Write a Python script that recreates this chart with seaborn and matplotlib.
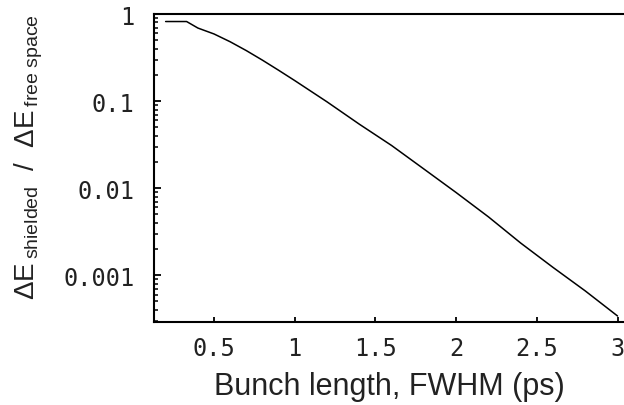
import matplotlib
matplotlib.use("Agg")
import matplotlib.pyplot as plt
import matplotlib.ticker as mticker
import numpy as np
import pandas as pd
import seaborn as sns

# Data
bunch_length_ps = [0.2, 0.33, 0.4, 0.5, 0.6, 0.7, 0.8, 0.9, 1.0, 1.2, 1.4,
                   1.6, 1.8, 2.0, 2.2, 2.4, 2.6, 2.8, 3.0]
energy_ratio = [0.82, 0.82, 0.69, 0.59, 0.48, 0.38, 0.295, 0.226, 0.172, 0.098,
                0.0543, 0.0309, 0.0166, 0.0089, 0.00468, 0.00234, 0.00123,
                0.00066, 0.00034]
x_ticks = [0.5, 1, 1.5, 2, 2.5, 3]
x_tick_labels = ["0.5", "1", "1.5", "2", "2.5", "3"]
y_ticks = [1, 0.1, 0.01, 0.001]
y_tick_labels = ["1", "0.1", "0.01", "0.001"]

df = pd.DataFrame({"x": bunch_length_ps, "y": energy_ratio})

sns.set_style("ticks")
plt.rcParams["font.family"] = ["Liberation Sans", "DejaVu Sans"]
plt.rcParams["mathtext.fontset"] = "custom"
plt.rcParams["mathtext.rm"] = "Liberation Sans"
plt.rcParams["mathtext.it"] = "Liberation Sans"
plt.rcParams["xtick.direction"] = "in"
plt.rcParams["ytick.direction"] = "in"

fig = plt.figure(figsize=(6.24, 4.06), dpi=100)
ax = fig.add_axes([0.2468, 0.2044, 0.7532, 0.7586])

sns.lineplot(data=df, x="x", y="y", ax=ax, color="black", linewidth=1.1)

ax.set_yscale("log")
ax.set_xlim(0.128, 3.04)
ax.set_ylim(2.9e-4, 1.0)

ax.set_xticks(x_ticks)
ax.set_xticklabels(x_tick_labels)
ax.set_yticks(y_ticks)
ax.set_yticklabels(y_tick_labels)
ax.yaxis.set_minor_locator(mticker.LogLocator(base=10, subs=np.arange(2, 10), numticks=30))
ax.yaxis.set_minor_formatter(mticker.NullFormatter())
ax.xaxis.set_minor_locator(mticker.NullLocator())

for lab in ax.get_xticklabels() + ax.get_yticklabels():
    lab.set_family("DejaVu Sans Mono")
    lab.set_fontsize(17)
    lab.set_color("#222222")

ax.tick_params(axis="y", which="major", direction="in", length=5, width=1.3,
               color="black", pad=14, left=True)
ax.tick_params(axis="x", which="major", direction="in", length=3.5, width=1.3,
               color="black", pad=10, bottom=True)
ax.tick_params(axis="y", which="minor", direction="in", length=3, width=1.1,
               color="black", left=True)

for side in ["left", "bottom", "top"]:
    ax.spines[side].set_linewidth(1.5)
    ax.spines[side].set_color("black")
ax.spines["right"].set_visible(False)

ax.set_xlabel("Bunch length, FWHM (ps)", fontsize=22, color="#222222", labelpad=8)
ax.set_ylabel("")
fig.text(0.021, 0.613,
         r"$\Delta\mathrm{E}\,_{\mathrm{shielded}}\ \ /\ \ \Delta\mathrm{E}\,_{\mathrm{free\ space}}$",
         rotation=90, ha="left", va="center", fontsize=20, color="#222222")

fig.savefig("out.png", dpi=100)
